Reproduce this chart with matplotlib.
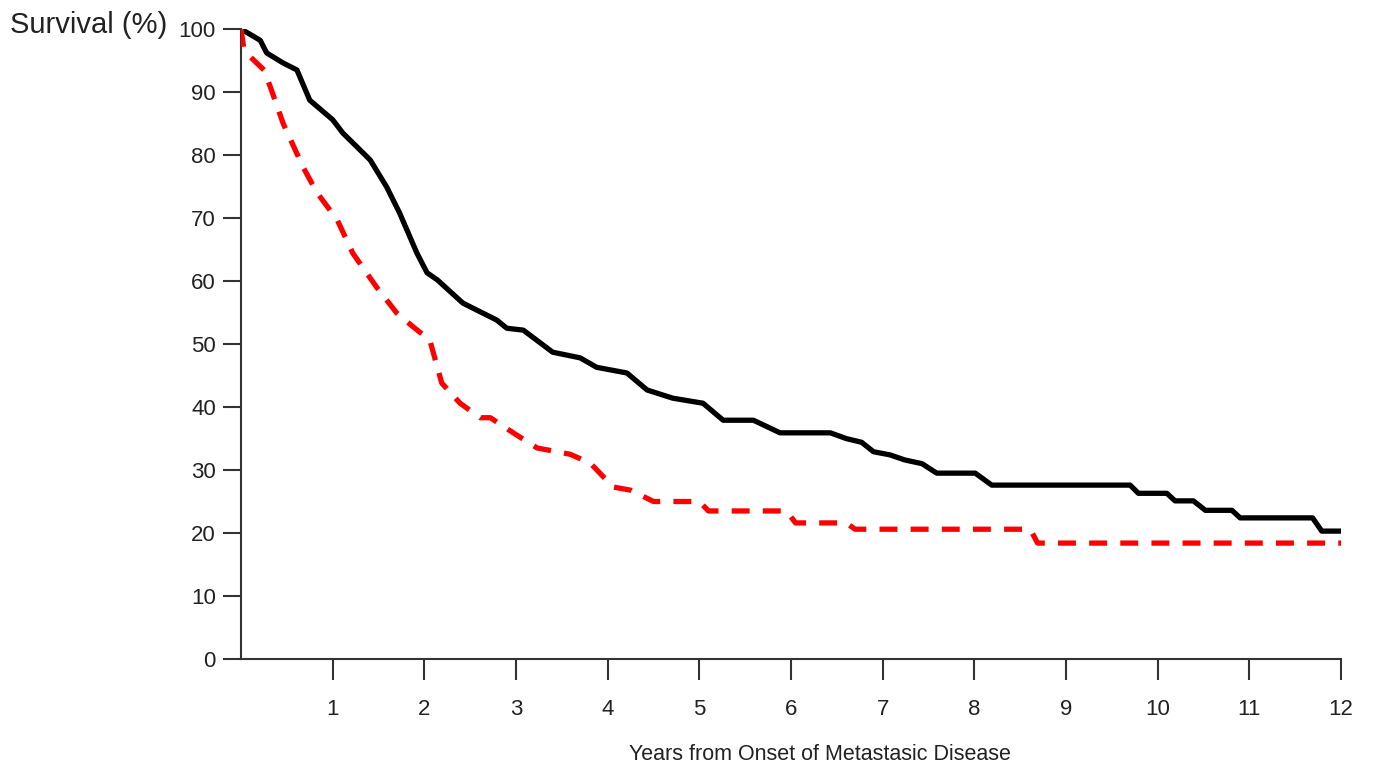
import matplotlib.pyplot as plt

plt.rcParams['font.family'] = ['Liberation Sans', 'DejaVu Sans']

# survival curves (years, %)
years_black = [0, 0.21, 0.28, 0.46, 0.61, 0.75, 1.0, 1.11, 1.25, 1.41, 1.59, 1.73,
               1.92, 2.03, 2.14, 2.42, 2.57, 2.79, 2.90, 3.08, 3.40, 3.70, 3.88,
               4.21, 4.43, 4.71, 5.04, 5.26, 5.59, 5.88, 6.43, 6.6, 6.77, 6.9,
               7.08, 7.24, 7.43, 7.59, 8.01, 8.19, 9.70, 9.79, 10.1, 10.19, 10.39,
               10.52, 10.81, 10.90, 11.69, 11.79, 12.0]
surv_black = [100, 98.2, 96.2, 94.6, 93.5, 88.7, 85.6, 83.5, 81.5, 79.2, 74.9, 70.8,
              64.4, 61.3, 60.2, 56.5, 55.4, 53.8, 52.5, 52.2, 48.7, 47.8, 46.3,
              45.4, 42.7, 41.4, 40.6, 37.9, 37.9, 35.9, 35.9, 35.0, 34.4, 32.9,
              32.4, 31.6, 31.0, 29.5, 29.5, 27.6, 27.6, 26.3, 26.3, 25.1, 25.1,
              23.6, 23.6, 22.4, 22.4, 20.3, 20.3]

years_red = [0, 0.03, 0.10, 0.25, 0.32, 0.46, 0.68, 0.83, 1.05, 1.22, 1.48, 1.70,
             1.88, 2.06, 2.19, 2.39, 2.61, 2.72, 2.97, 3.23, 3.59, 3.81, 4.06,
             4.25, 4.5, 5.0, 5.1, 5.95, 6.05, 6.6, 6.7, 8.61, 8.69, 12.0]
surv_red = [100, 97, 95.6, 93.5, 90.8, 85, 78, 74, 69.7, 64.4, 59, 54.9,
            52.7, 50.6, 43.8, 40.6, 38.3, 38.3, 35.9, 33.5, 32.5, 31.1, 27.3,
            26.8, 25.0, 25.0, 23.5, 23.5, 21.6, 21.6, 20.6, 20.6, 18.4, 18.4]

x_ticks = list(range(1, 13))
y_ticks = list(range(0, 101, 10))

fig = plt.figure(figsize=(13.75, 7.72), dpi=100)
ax = fig.add_axes([241 / 1375, 1 - 659 / 772, 1100 / 1375, 630 / 772])

ax.plot(years_black, surv_black, color='black', lw=3.8, solid_joinstyle='round',
        solid_capstyle='butt', zorder=3)
ax.plot(years_red, surv_red, color='#ff0000', lw=3.8, linestyle=(0, (3.4, 2.5)),
        dash_capstyle='butt', zorder=3)

ax.set_xlim(0, 12)
ax.set_ylim(0, 100)
ax.set_xticks(x_ticks)
ax.set_yticks(y_ticks)

for s in ['top', 'right']:
    ax.spines[s].set_visible(False)
for s in ['left', 'bottom']:
    ax.spines[s].set_color('#333333')
    ax.spines[s].set_linewidth(1.5)
    ax.spines[s].set_clip_on(False)

ax.tick_params(axis='y', direction='out', length=13, width=1.5, color='#333333',
               labelsize=16, labelcolor='#222222', pad=5)
ax.tick_params(axis='x', direction='out', length=15, width=1.5, color='#333333',
               labelsize=16, labelcolor='#222222', pad=14)

fig.text(10 / 1375, 1 - 25 / 772, 'Survival (%)', fontsize=21, color='#222222',
         ha='left', va='center')
fig.text(820 / 1375, 1 - 755 / 772, 'Years from Onset of Metastasic Disease',
         fontsize=15.5, color='#222222', ha='center', va='center')

fig.savefig('out.png', dpi=100)
